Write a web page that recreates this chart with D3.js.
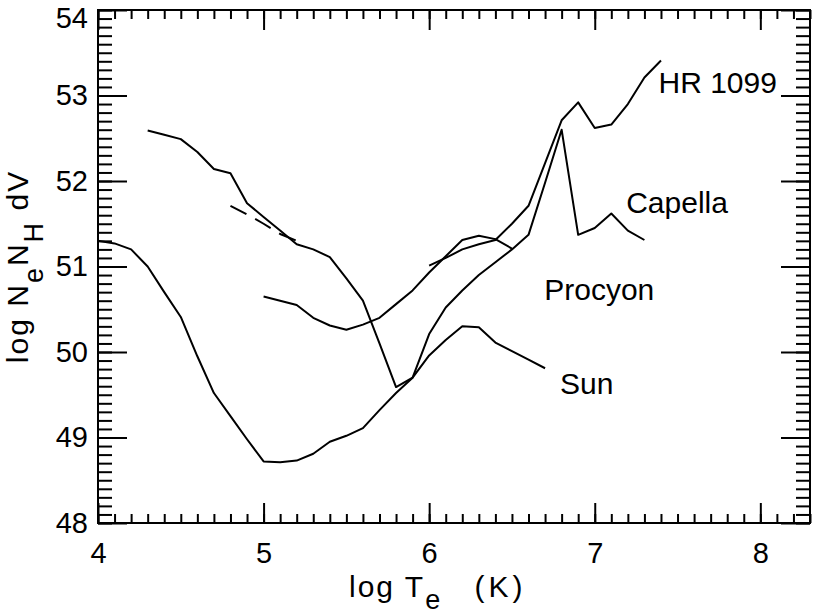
<!DOCTYPE html>
<html>
<head>
<meta charset="utf-8">
<script src="https://cdn.jsdelivr.net/npm/d3@7"></script>
<style>
  body { margin: 0; background: #fff; }
  svg text { font-family: "Liberation Sans", Arial, Helvetica, sans-serif; fill: #000; }
</style>
</head>
<body>
<div id="chart"></div>
<script>
// emission measure distributions, log T vs log EM
const sunT = [4.0, 4.1, 4.2, 4.3, 4.4, 4.5, 4.6, 4.7, 4.8, 4.9, 5.0, 5.1, 5.2, 5.3, 5.4, 5.5, 5.6, 5.7, 5.8, 5.9, 6.0, 6.1, 6.2, 6.3, 6.4, 6.5, 6.6, 6.7];
const sunEM = [51.30, 51.27, 51.20, 51.00, 50.70, 50.41, 49.95, 49.52, 49.25, 48.98, 48.72, 48.71, 48.73, 48.81, 48.95, 49.02, 49.11, 49.32, 49.52, 49.70, 49.96, 50.14, 50.30, 50.29, 50.11, 50.01, 49.91, 49.81];

const procyonT = [5.0, 5.1, 5.2, 5.3, 5.4, 5.5, 5.6, 5.7, 5.8, 5.9, 6.0, 6.1, 6.2, 6.3, 6.4, 6.5];
const procyonEM = [50.65, 50.60, 50.55, 50.40, 50.31, 50.26, 50.32, 50.40, 50.56, 50.72, 50.93, 51.12, 51.31, 51.36, 51.32, 51.21];

const capellaT = [4.3, 4.4, 4.5, 4.6, 4.7, 4.8, 4.9, 5.0, 5.1, 5.2, 5.3, 5.4, 5.5, 5.6, 5.7, 5.8, 5.9, 6.0, 6.1, 6.2, 6.3, 6.4, 6.5, 6.6, 6.7, 6.8, 6.9, 7.0, 7.1, 7.2, 7.3];
const capellaEM = [52.59, 52.54, 52.49, 52.34, 52.14, 52.09, 51.74, 51.58, 51.42, 51.26, 51.20, 51.11, 50.86, 50.60, 50.10, 49.59, 49.70, 50.21, 50.52, 50.72, 50.90, 51.05, 51.20, 51.37, 51.98, 52.60, 51.37, 51.45, 51.62, 51.42, 51.31];

// HR 1099: poorly constrained low-T part (dashed) + hot part
const hrLowT = [4.8, 4.9, 5.0, 5.1, 5.2, 5.25];
const hrLowEM = [51.71, 51.61, 51.50, 51.38, 51.30, 51.27];
const hrT = [6.0, 6.1, 6.2, 6.3, 6.4, 6.5, 6.6, 6.7, 6.8, 6.9, 7.0, 7.1, 7.2, 7.3, 7.4];
const hrEM = [51.01, 51.10, 51.20, 51.26, 51.31, 51.50, 51.71, 52.21, 52.71, 52.92, 52.62, 52.66, 52.90, 53.21, 53.41];

const xMajor = [4, 5, 6, 7, 8];
const yMajor = [48, 49, 50, 51, 52, 53, 54];

var margin = {top: 10, right: 14, bottom: 91, left: 98};
var width = 824 - margin.left - margin.right,
    height = 614 - margin.top - margin.bottom;

const svg = d3.select('#chart')
  .append('svg')
  .attr("width", 824)
  .attr("height", 614)
  .append("g")
  .attr("transform", "translate(" + margin.left + "," + margin.top + ")");

const x = d3.scaleLinear().domain([4, 8.3]).range([0, width]);
const y = d3.scaleLinear().domain([48, 54]).range([height, 0]);

const xMinor = d3.range(40, 84).map(d => d / 10);
const yMinor = d3.range(480, 541).map(d => d / 10);

function styleAxis(g) {
  g.select(".domain").remove();
  g.selectAll("line").attr("stroke", "#000").attr("stroke-width", 2);
  g.selectAll("text").attr("font-size", "29px").attr("fill", "#000");
}

// minor ticks on all four sides
svg.append("g").attr("transform", `translate(0,${height})`)
  .call(d3.axisBottom(x).tickValues(xMinor).tickSize(-9).tickFormat(""))
  .call(styleAxis);
svg.append("g")
  .call(d3.axisTop(x).tickValues(xMinor).tickSize(-9).tickFormat(""))
  .call(styleAxis);
svg.append("g")
  .call(d3.axisLeft(y).tickValues(yMinor).tickSize(-14).tickFormat(""))
  .call(styleAxis);
svg.append("g").attr("transform", `translate(${width},0)`)
  .call(d3.axisRight(y).tickValues(yMinor).tickSize(-14).tickFormat(""))
  .call(styleAxis);

// major ticks + labels
svg.append("g").attr("transform", `translate(0,${height})`)
  .call(d3.axisBottom(x).tickValues(xMajor).tickSize(-20).tickPadding(19).tickFormat(d3.format("d")))
  .call(styleAxis);
svg.append("g")
  .call(d3.axisTop(x).tickValues(xMajor).tickSize(-20).tickFormat(""))
  .call(styleAxis);
const yAxisG = svg.append("g")
  .call(d3.axisLeft(y).tickValues(yMajor).tickSize(-29).tickPadding(10).tickFormat(d3.format("d")))
  .call(styleAxis);
// top label sits inside the page, like the original
yAxisG.selectAll(".tick text").filter(d => d === 54).attr("dy", "0.62em");
svg.append("g").attr("transform", `translate(${width},0)`)
  .call(d3.axisRight(y).tickValues(yMajor).tickSize(-29).tickFormat(""))
  .call(styleAxis);

// frame
svg.append("rect")
  .attr("width", width)
  .attr("height", height)
  .attr("fill", "none")
  .attr("stroke", "#000")
  .attr("stroke-width", 2);

const line = d3.line().x(d => x(d[0])).y(d => y(d[1]));

const curves = [
  {t: sunT, em: sunEM, dash: null},
  {t: procyonT, em: procyonEM, dash: null},
  {t: capellaT, em: capellaEM, dash: null},
  {t: hrLowT, em: hrLowEM, dash: "18,10"},
  {t: hrT, em: hrEM, dash: null}
];

svg.append("g").selectAll("path")
  .data(curves)
  .enter().append("path")
  .attr("d", c => line(d3.zip(c.t, c.em)))
  .attr("fill", "none")
  .attr("stroke", "#000")
  .attr("stroke-width", 2)
  .attr("stroke-linejoin", "round")
  .attr("stroke-dasharray", c => c.dash);

// curve names
const names = [
  {name: "HR 1099", t: 7.385, em: 53.03},
  {name: "Capella", t: 7.19, em: 51.63},
  {name: "Procyon", t: 6.695, em: 50.61},
  {name: "Sun", t: 6.79, em: 49.51}
];
svg.append("g").selectAll("text")
  .data(names)
  .enter().append("text")
  .attr("x", d => x(d.t))
  .attr("y", d => y(d.em))
  .attr("font-size", "30px")
  .text(d => d.name);

// axis titles
const xt = svg.append("text")
  .attr("x", 251)
  .attr("y", height + 74)
  .attr("font-size", "30px")
  .attr("letter-spacing", "2px");
xt.append("tspan").text("log T");
xt.append("tspan").attr("dy", 12).attr("font-size", "27px").text("e");
xt.append("tspan").attr("dy", -12).attr("dx", 20).attr("letter-spacing", "4px").text(" (K)");

const yt = svg.append("text")
  .attr("transform", `translate(${28 - margin.left},${height / 2}) rotate(-90)`)
  .attr("text-anchor", "middle")
  .attr("font-size", "30px")
  .attr("letter-spacing", "2px");
yt.append("tspan").text("log N");
yt.append("tspan").attr("dy", 15).attr("font-size", "27px").text("e");
yt.append("tspan").attr("dy", -15).text("N");
yt.append("tspan").attr("dy", 15).attr("font-size", "27px").text("H");
yt.append("tspan").attr("dy", -15).text(" dV");
</script>
</body>
</html>
